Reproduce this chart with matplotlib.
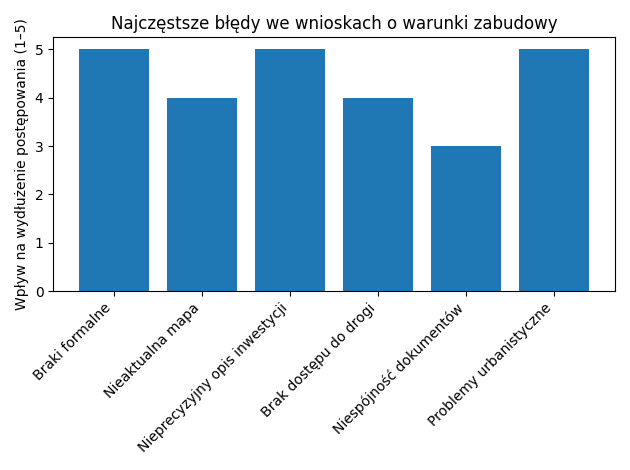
import matplotlib
matplotlib.use("Agg")
import matplotlib.pyplot as plt

categories = ["Braki formalne", "Nieaktualna mapa", "Nieprecyzyjny opis inwestycji",
              "Brak dostępu do drogi", "Niespójność dokumentów", "Problemy urbanistyczne"]
impact = [5, 4, 5, 4, 3, 5]

fig, ax = plt.subplots(figsize=(6.3, 4.7), dpi=100)
ax.bar(categories, impact)
ax.set_title("Najczęstsze błędy we wnioskach o warunki zabudowy")
ax.set_ylabel("Wpływ na wydłużenie postępowania (1–5)")
plt.xticks(rotation=45, ha="right")
plt.tight_layout()
plt.savefig("out.png")
